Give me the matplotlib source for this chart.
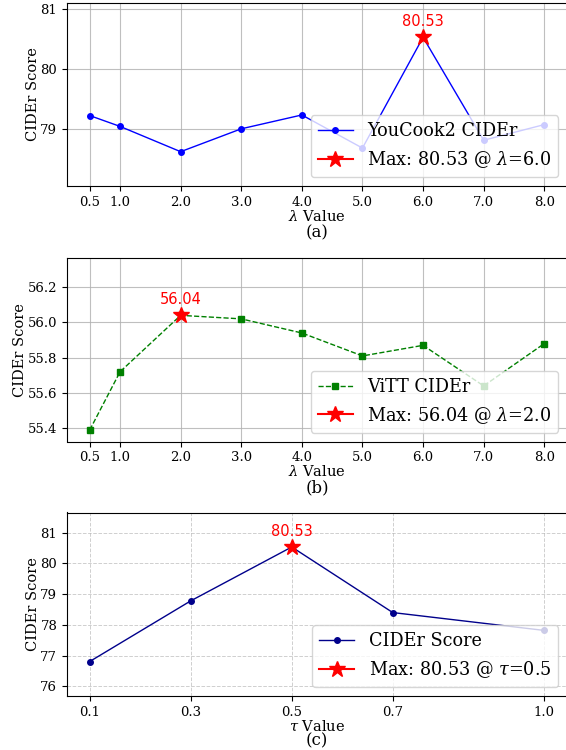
import matplotlib
matplotlib.use("Agg")
import matplotlib.pyplot as plt

plt.rcParams['font.family'] = ['DejaVu Serif']
plt.rcParams['mathtext.fontset'] = 'dejavuserif'

# Data
lam_values = [0.5, 1.0, 2.0, 3.0, 4.0, 5.0, 6.0, 7.0, 8.0]
lam_labels = ['0.5', '1.0', '2.0', '3.0', '4.0', '5.0', '6.0', '7.0', '8.0']
youcook_cider = [79.23, 79.05, 78.63, 79.01, 79.24, 78.69, 80.53, 78.82, 79.08]
vitt_cider = [55.39, 55.72, 56.04, 56.02, 55.94, 55.81, 55.87, 55.64, 55.88]
tau_values = [0.1, 0.3, 0.5, 0.7, 1.0]
tau_labels = ['0.1', '0.3', '0.5', '0.7', '1.0']
tau_cider = [76.81, 78.78, 80.53, 78.40, 77.82]

W, H = 566, 750
fig = plt.figure(figsize=(W / 100, H / 100), dpi=100)

def px_axes(left, top, right, bottom):
    return fig.add_axes([left / W, 1 - bottom / H, (right - left) / W, (bottom - top) / H])

TICK_FS = 9.5
LABEL_FS = 10.5
LEG_FS = 12.7
CAP_FS = 12
ANN_FS = 10.5

def finish(ax, xs, ys, xlabels, xlabel, cap, cap_y, max_label, ylim, yticks, grid_style):
    i = max(range(len(ys)), key=lambda k: ys[k])
    ax.plot(xs[i], ys[i], linestyle='-', color='red', marker='*', markersize=12,
            label=max_label, zorder=5)
    ax.annotate(f'{ys[i]:.2f}', (xs[i], ys[i]), xytext=(0, 6), textcoords='offset points',
                ha='center', va='bottom', color='red', fontsize=ANN_FS, family='DejaVu Sans')
    ax.set_xticks(xs)
    ax.set_xticklabels(xlabels, fontsize=TICK_FS)
    ax.set_yticks(yticks)
    ax.tick_params(axis='y', labelsize=TICK_FS)
    ax.set_ylim(*ylim)
    ax.set_xlabel(xlabel, fontsize=LABEL_FS, labelpad=0)
    ax.set_ylabel('CIDEr Score', fontsize=LABEL_FS, labelpad=0.5)
    if grid_style == 'solid':
        ax.grid(True, color='#b0b0b0', linewidth=0.8, alpha=0.8)
    else:
        ax.grid(True, linestyle='--', color='#b0b0b0', linewidth=0.7, alpha=0.6)
    ax.legend(loc='lower right', fontsize=LEG_FS)
    fig.text(317 / W, 1 - cap_y / H, cap, ha='center', va='center', fontsize=CAP_FS)

# (a)
ax1 = px_axes(67, 3, 567, 186)
ax1.plot(lam_values, youcook_cider, color='blue', marker='o', markersize=4,
         linewidth=1.0, label='YouCook2 CIDEr')
finish(ax1, lam_values, youcook_cider, lam_labels, r'$\lambda$ Value', '(a)', 233,
       r'Max: 80.53 @ $\lambda$=6.0', (78.06, 81.10), [79, 80, 81], 'solid')
ax1.set_xlim(0.125, 8.375)

# (b)
ax2 = px_axes(67, 258, 567, 441.5)
ax2.plot(lam_values, vitt_cider, color='green', marker='s', markersize=4,
         linewidth=1.0, linestyle='--', label='ViTT CIDEr')
finish(ax2, lam_values, vitt_cider, lam_labels, r'$\lambda$ Value', '(b)', 488,
       r'Max: 56.04 @ $\lambda$=2.0', (55.325, 56.365), [55.4, 55.6, 55.8, 56.0, 56.2],
       'solid')
ax2.set_xlim(0.125, 8.375)

# (c)
ax3 = px_axes(67, 512.5, 567, 696)
ax3.plot(tau_values, tau_cider, color='darkblue', marker='o', markersize=4,
         linewidth=1.0, label='CIDEr Score')
finish(ax3, tau_values, tau_cider, tau_labels, r'$\tau$ Value', '(c)', 741,
       r'Max: 80.53 @ $\tau$=0.5', (75.69, 81.65), [76, 77, 78, 79, 80, 81], 'dashed')
ax3.set_xlim(0.055, 1.045)

fig.savefig('out.png', dpi=100)
